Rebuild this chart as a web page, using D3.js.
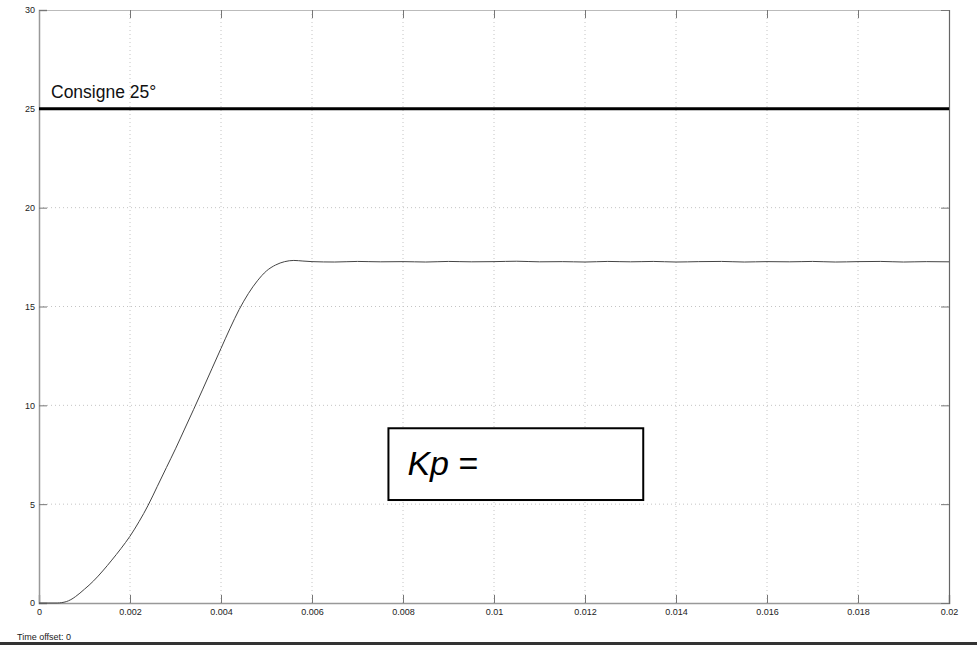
<!DOCTYPE html>
<html>
<head>
<meta charset="utf-8">
<script src="https://cdn.jsdelivr.net/npm/d3@7"></script>
<style>
  body { margin: 0; background: #fff; }
  text { font-family: "Liberation Sans", Arial, sans-serif; }
</style>
</head>
<body>
<svg></svg>
<script>
var margin = {top: 10, right: 28, bottom: 45, left: 39};
var width = 977 - margin.left - margin.right;
var height = 648 - margin.top - margin.bottom;

// --- data ---
var xTicks = [0, 0.002, 0.004, 0.006, 0.008, 0.01, 0.012, 0.014, 0.016, 0.018, 0.02];
var yTicks = [0, 5, 10, 15, 20, 25, 30];

// consigne (setpoint)
var setTime = [0, 0.02];
var setValue = [25, 25];

// measured response
var respTime = [0, 0.0002, 0.0004, 0.0005, 0.0006, 0.0007, 0.0008, 0.0009, 0.001,
  0.0011, 0.0012, 0.0014, 0.0016, 0.0018, 0.002, 0.0022, 0.0024, 0.0026, 0.0028,
  0.003, 0.0032, 0.0034, 0.0036, 0.0038, 0.004, 0.0042, 0.0044, 0.0046, 0.0048,
  0.005, 0.0052, 0.0054, 0.0056, 0.0058, 0.006, 0.0065, 0.007, 0.0075, 0.008,
  0.0085, 0.009, 0.0095, 0.01, 0.0105, 0.011, 0.0115, 0.012, 0.0125, 0.013,
  0.0135, 0.014, 0.0145, 0.015, 0.0155, 0.016, 0.0165, 0.017, 0.0175, 0.018,
  0.0185, 0.019, 0.0195, 0.02];
var respValue = [0, 0, 0, 0.02, 0.07, 0.17, 0.32, 0.5, 0.7,
  0.9, 1.12, 1.62, 2.17, 2.75, 3.38, 4.12, 4.95, 5.9, 6.85,
  7.8, 8.8, 9.8, 10.82, 11.85, 12.88, 13.9, 14.85, 15.65, 16.3,
  16.8, 17.1, 17.27, 17.33, 17.3, 17.27, 17.25, 17.28, 17.26, 17.27,
  17.25, 17.28, 17.26, 17.27, 17.29, 17.26, 17.27, 17.25, 17.28, 17.26,
  17.28, 17.25, 17.27, 17.28, 17.25, 17.27, 17.26, 17.28, 17.25, 17.27,
  17.28, 17.25, 17.27, 17.26];

var svg = d3.select("svg")
    .attr("width", width + margin.left + margin.right)
    .attr("height", height + margin.top + margin.bottom);

var g = svg.append("g")
    .attr("transform", "translate(" + margin.left + "," + margin.top + ")");

var x = d3.scaleLinear().domain([0, 0.02]).range([0, width]);
var y = d3.scaleLinear().domain([0, 30]).range([height, 0]);

// grille pointillée
g.append("g").selectAll("line")
    .data(xTicks.slice(1, -1))
    .enter().append("line")
    .attr("x1", function(d) { return x(d); })
    .attr("x2", function(d) { return x(d); })
    .attr("y1", 0).attr("y2", height)
    .attr("stroke", "#c4c4c4")
    .attr("stroke-dasharray", "1,3");

g.append("g").selectAll("line")
    .data(yTicks.slice(1, -1))
    .enter().append("line")
    .attr("x1", 0).attr("x2", width)
    .attr("y1", function(d) { return y(d); })
    .attr("y2", function(d) { return y(d); })
    .attr("stroke", "#c4c4c4")
    .attr("stroke-dasharray", "1,3");

// axes (ticks inward)
var xAxis = g.append("g")
    .attr("transform", "translate(0," + height + ")")
    .call(d3.axisBottom(x).tickValues(xTicks).tickSize(-8).tickPadding(6)
      .tickFormat(function(d) { return d3.format("~g")(d); }));
var xAxisTop = g.append("g")
    .call(d3.axisTop(x).tickValues(xTicks).tickSize(-8).tickFormat(""));
var yAxis = g.append("g")
    .call(d3.axisLeft(y).tickValues(yTicks).tickSize(-8).tickPadding(4));
var yAxisRight = g.append("g")
    .attr("transform", "translate(" + width + ",0)")
    .call(d3.axisRight(y).tickValues(yTicks).tickSize(-8).tickFormat(""));

[xAxis, xAxisTop, yAxis, yAxisRight].forEach(function(a) {
  a.selectAll("text").attr("font-size", 9).attr("fill", "#222")
    .attr("font-family", "'Liberation Sans', Arial, sans-serif");
  a.selectAll(".tick line").attr("stroke", "#777");
});
xAxis.select(".domain").attr("stroke", "#999").attr("stroke-width", 1.5);
yAxis.select(".domain").attr("stroke", "#999").attr("stroke-width", 1.5);
xAxisTop.select(".domain").attr("stroke", "#bbb");
yAxisRight.select(".domain").attr("stroke", "#666").attr("stroke-width", 1.2);

// consigne
var setLine = d3.line()
    .x(function(d, i) { return x(setTime[i]); })
    .y(function(d) { return y(d); });
g.append("path")
    .datum(setValue)
    .attr("fill", "none")
    .attr("stroke", "#000")
    .attr("stroke-width", 3)
    .attr("d", setLine);

g.append("text")
    .attr("x", x(0) + 12)
    .attr("y", y(25) - 11)
    .attr("font-size", 17.5)
    .attr("fill", "#111")
    .text("Consigne 25°");

// réponse
var respLine = d3.line()
    .x(function(d, i) { return x(respTime[i]); })
    .y(function(d) { return y(d); })
    .curve(d3.curveMonotoneX);
g.append("path")
    .datum(respValue)
    .attr("fill", "none")
    .attr("stroke", "#444")
    .attr("stroke-width", 1)
    .attr("d", respLine);

// cadre Kp
var box = g.append("g");
box.append("rect")
    .attr("x", x(0.00768))
    .attr("y", y(8.84))
    .attr("width", x(0.01328) - x(0.00768))
    .attr("height", y(5.21) - y(8.84))
    .attr("fill", "#fff")
    .attr("stroke", "#000")
    .attr("stroke-width", 2);
var kp = box.append("text")
    .attr("x", x(0.00768) + 19)
    .attr("y", y(5.21) - 25)
    .attr("font-size", 34)
    .attr("fill", "#000");
kp.append("tspan").attr("font-style", "italic").text("Kp");
kp.append("tspan").text(" =");

// pied de page
svg.append("text")
    .attr("x", 17)
    .attr("y", 640)
    .attr("font-size", 9)
    .attr("fill", "#222")
    .text("Time offset: 0");

svg.append("line")
    .attr("x1", 0).attr("x2", 977)
    .attr("y1", 643.5).attr("y2", 643.5)
    .attr("stroke", "#333")
    .attr("stroke-width", 3);
</script>
</body>
</html>
